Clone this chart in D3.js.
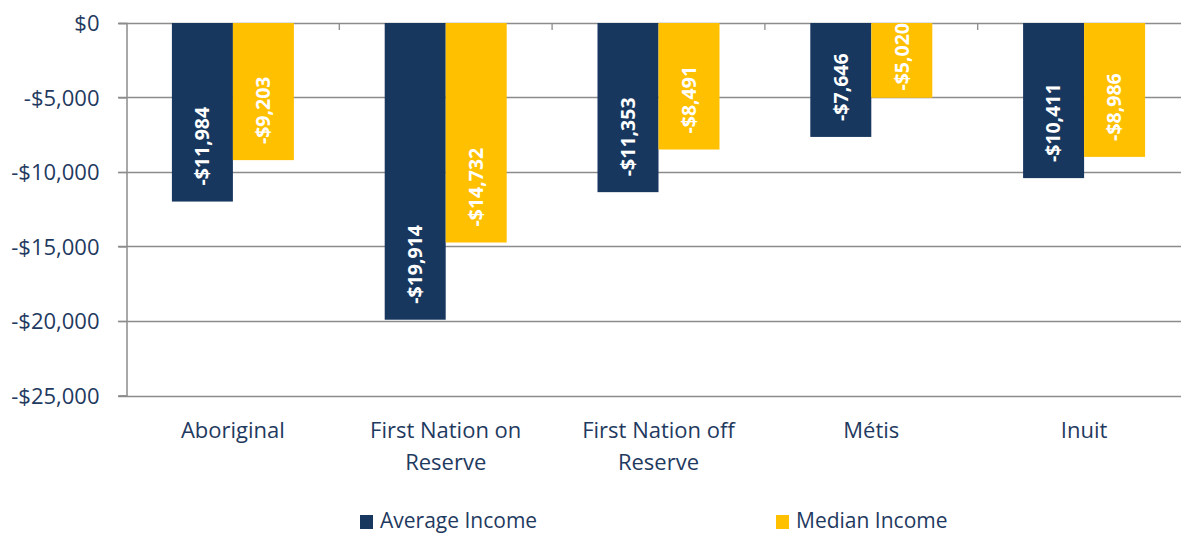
<!DOCTYPE html>
<html><head><meta charset="utf-8">
<script src="https://cdn.jsdelivr.net/npm/d3@7"></script>
<style>body{margin:0;background:#fff;overflow:hidden}svg{display:block}</style>
</head><body>
<svg id="c" width="1181" height="535"></svg>
<script>
const categories = [["Aboriginal"], ["First Nation on","Reserve"], ["First Nation off","Reserve"], ["Métis"], ["Inuit"]];
const seriesNames = ["Average Income", "Median Income"];
const averageIncome = [-11984, -19914, -11353, -7646, -10411];
const medianIncome = [-9203, -14732, -8491, -5020, -8986];
const yTicks = [0, -5000, -10000, -15000, -20000, -25000];
const colors = ["#17375E", "#FFC000"];

const svg = d3.select("#c");
const font = "'Open Sans', sans-serif";
const textColor = "#1F3A60";
const gridColor = "#8C8C8C";

const x0 = d3.scaleBand().domain(d3.range(categories.length)).range([126.5, 1190.5]).padding(0);
const groupFrac = 122 / 212.8;
const x1 = d3.scaleBand().domain(d3.range(seriesNames.length))
  .range([0, x0.bandwidth() * groupFrac]);
const y = d3.scaleLinear().domain([-25000, 0]).range([395.5, 23]);

// gridlines
svg.append("g").selectAll("line").data(yTicks).join("line")
  .attr("x1", 118).attr("x2", 1181)
  .attr("y1", d => Math.round(y(d)) + 0.5).attr("y2", d => Math.round(y(d)) + 0.5)
  .attr("stroke", gridColor).attr("stroke-width", 1.3);

// y axis
const yAxis = svg.append("g").attr("transform", "translate(126.5,0)")
  .call(d3.axisLeft(y).tickValues(yTicks).tickSize(8).tickPadding(19)
    .tickFormat(d => (d < 0 ? "-$" : "$") + d3.format(",")(Math.abs(d))));
yAxis.select(".domain").attr("stroke", gridColor).attr("stroke-width", 1.5);
yAxis.selectAll(".tick line").attr("stroke", gridColor).attr("stroke-width", 1.3);
yAxis.selectAll(".tick text").attr("fill", textColor).attr("font-family", font).attr("font-size", 22).attr("dy", "0.35em");

// category ticks along zero line
svg.append("g").selectAll("line").data(d3.range(1, categories.length)).join("line")
  .attr("x1", d => x0(d)).attr("x2", d => x0(d))
  .attr("y1", 23).attr("y2", 30).attr("stroke", gridColor).attr("stroke-width", 1.3);

// bars
const data = [averageIncome, medianIncome];
const groups = svg.append("g").selectAll("g").data(categories).join("g")
  .attr("transform", (d, i) => `translate(${x0(i) + (x0.bandwidth() - x1.range()[1]) / 2},0)`);

groups.each(function(cat, ci) {
  const g = d3.select(this);
  seriesNames.forEach((s, si) => {
    const v = data[si][ci];
    const bx = x1(si), bw = x1.bandwidth();
    const top = y(0), bottom = y(v);
    g.append("rect").attr("x", bx).attr("y", top).attr("width", bw).attr("height", bottom - top)
      .attr("fill", colors[si]);
    const label = "-$" + d3.format(",")(Math.abs(v));
    const t = g.append("text").text(label)
      .attr("font-family", font).attr("font-weight", "bold").attr("font-size", 19.5)
      .attr("fill", "#fff").attr("text-anchor", "start");
    const len = t.node().getComputedTextLength();
    const startY = Math.max(bottom - 16, top + len);
    t.attr("transform", `translate(${bx + bw / 2},${startY}) rotate(-90)`).attr("dy", "0.35em");
  });
});

// category labels
svg.append("g").selectAll("text").data(categories).join("text")
  .attr("x", (d, i) => x0(i) + x0.bandwidth() / 2)
  .attr("y", 438)
  .attr("text-anchor", "middle").attr("fill", textColor).attr("font-family", font).attr("font-size", 22)
  .each(function(lines) {
    d3.select(this).selectAll("tspan").data(lines).join("tspan")
      .attr("x", d3.select(this).attr("x")).attr("dy", (d, j) => j === 0 ? 0 : 32).text(d => d);
  });

// legend
const legendX = [360, 776];
const lg = svg.append("g").selectAll("g").data(seriesNames).join("g")
  .attr("transform", (d, i) => `translate(${legendX[i]},515)`);
lg.append("rect").attr("width", 13).attr("height", 14).attr("fill", (d, i) => colors[i]);
lg.append("text").attr("x", 20).attr("y", 13).text(d => d)
  .attr("fill", textColor).attr("font-family", font).attr("font-size", 21);
</script>
</body></html>
